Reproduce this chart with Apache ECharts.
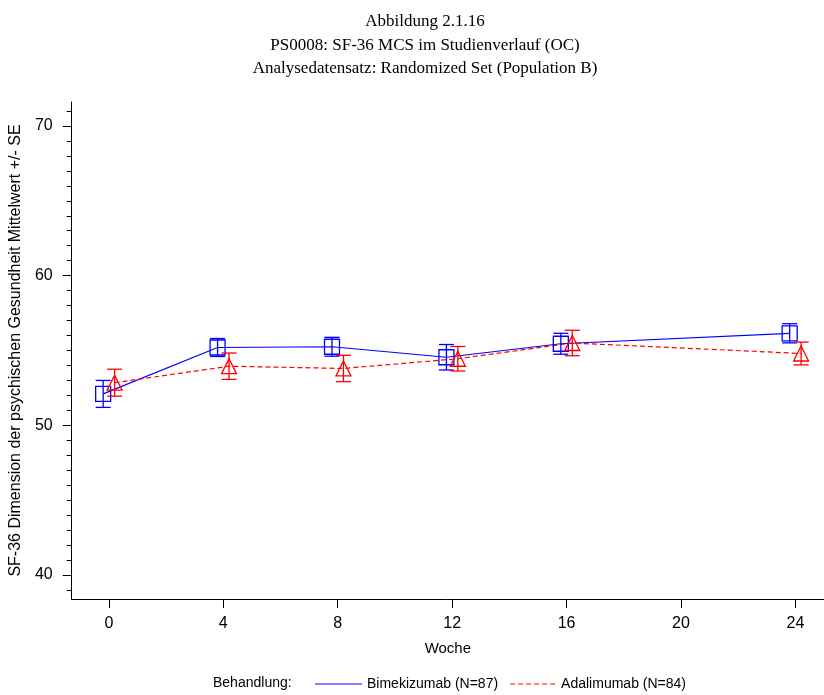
<!DOCTYPE html>
<html><head><meta charset="utf-8">
<script src="https://cdn.jsdelivr.net/npm/echarts@6/dist/echarts.min.js"></script>
<style>html,body{margin:0;padding:0;background:#fff}#c{width:824px;height:695px}</style>
</head><body><div id="c"></div>
<script>
// ---- data ----
const weeks = [0, 4, 8, 12, 16, 24];
const bimeMean = [52.1, 55.2, 55.25, 54.55, 55.45, 56.15];
const bimeSE = [0.9, 0.6, 0.63, 0.85, 0.7, 0.64];
const adaMean = [52.85, 53.95, 53.8, 54.45, 55.5, 54.8];
const adaSE = [0.9, 0.88, 0.88, 0.82, 0.85, 0.76];
const xTickLabels = [0, 4, 8, 12, 16, 20, 24];
const yTickLabels = [40, 50, 60, 70];
const yMinorTicks = [39,40,41,42,43,44,45,46,47,48,49,50,51,52,53,54,55,56,57,58,59,60,61,62,63,64,65,66,67,68,69,70,71];
const bimeName = 'Bimekizumab (N=87)';
const adaName = 'Adalimumab (N=84)';
const titleLines = ['Abbildung 2.1.16', 'PS0008: SF-36 MCS im Studienverlauf (OC)', 'Analysedatensatz: Randomized Set (Population B)'];
const yTitle = 'SF-36 Dimension der psychischen Gesundheit Mittelwert +/- SE';
const xTitle = 'Woche';
const legendTitle = 'Behandlung:';

// ---- layout / style ----
const shift = 0.2; // horizontal dodge of the two groups (weeks)
const BLUE = '#0000ff', RED = '#ff0000';
const SANS = "'Liberation Sans',Arial,sans-serif";
const SERIF = "'Liberation Serif','Times New Roman',serif";

function pts(mean, dx) { return weeks.map((w, i) => [w + dx, mean[i]]); }
function errData(mean, se, dx) { return weeks.map((w, i) => [w + dx, mean[i] - se[i], mean[i] + se[i], mean[i]]); }

function makeRender(color, shape) {
  return function (params, api) {
    const x = api.value(0);
    const lo = api.coord([x, api.value(1)]);
    const hi = api.coord([x, api.value(2)]);
    const c = api.coord([x, api.value(3)]);
    const cw = 7.5, s = 7.5;
    const st = { stroke: color, lineWidth: 1.3, fill: null };
    const children = [
      { type: 'line', shape: { x1: lo[0], y1: lo[1], x2: hi[0], y2: hi[1] }, style: st },
      { type: 'line', shape: { x1: lo[0] - cw, y1: lo[1], x2: lo[0] + cw, y2: lo[1] }, style: st },
      { type: 'line', shape: { x1: hi[0] - cw, y1: hi[1], x2: hi[0] + cw, y2: hi[1] }, style: st }
    ];
    if (shape === 'square') {
      children.push({ type: 'rect', shape: { x: c[0] - s, y: c[1] - s, width: 2 * s, height: 2 * s }, style: st });
    } else {
      children.push({ type: 'polygon', shape: { points: [[c[0], c[1] - s], [c[0] + s, c[1] + s], [c[0] - s, c[1] + s]] }, style: st });
    }
    return { type: 'group', children: children };
  };
}

const chart = echarts.init(document.getElementById('c'), null, { renderer: 'canvas' });
chart.setOption({
  animation: false,
  backgroundColor: '#fff',
  title: {
    text: titleLines.join('\n'),
    left: 420, top: 5, textAlign: 'center',
    textStyle: { fontFamily: SERIF, fontSize: 17, fontWeight: 'normal', color: '#000', lineHeight: 23.5 }
  },
  grid: { left: 69, right: 0, top: 102, bottom: 96, containLabel: false },
  xAxis: {
    type: 'value', min: -1.3, max: 25,
    axisLine: { show: true, onZero: false, lineStyle: { color: '#000', width: 1 } },
    axisTick: { show: true, length: 9, customValues: xTickLabels, lineStyle: { color: '#000' } },
    axisLabel: { customValues: xTickLabels, fontFamily: SANS, fontSize: 16, color: '#000', margin: 17 },
    splitLine: { show: false },
    name: xTitle, nameLocation: 'middle', nameGap: 42,
    nameTextStyle: { fontFamily: SANS, fontSize: 15, color: '#000' }
  },
  yAxis: [{
    type: 'value', min: 38.4, max: 71.6, position: 'left',
    axisLine: { show: true, onZero: false, lineStyle: { color: '#000', width: 1 } },
    axisTick: { show: true, length: 9, customValues: yTickLabels, lineStyle: { color: '#000' } },
    axisLabel: { customValues: yTickLabels, fontFamily: SANS, fontSize: 16, color: '#000', margin: 19 },
    splitLine: { show: false },
    name: yTitle, nameLocation: 'middle', nameGap: 42, nameRotate: 90,
    nameTextStyle: { fontFamily: SANS, fontSize: 16, color: '#000' }
  }, {
    type: 'value', min: 38.4, max: 71.6, position: 'left', offset: 0,
    axisLine: { show: false, onZero: false },
    axisTick: { show: true, length: 5, customValues: yMinorTicks, lineStyle: { color: '#000' } },
    axisLabel: { show: false },
    splitLine: { show: false }
  }],
  legend: {
    data: [
      { name: bimeName, icon: 'path://M0,0h48v1h-48z' },
      { name: adaName, icon: 'path://M0,0h5v1h-5zM8,0h5v1h-5zM16,0h5v1h-5zM24,0h5v1h-5zM32,0h5v1h-5zM40,0h5v1h-5z' }
    ],
    left: 310, top: 672, itemWidth: 47, itemHeight: 1, itemGap: 12,
    textStyle: { fontFamily: SANS, fontSize: 14, color: '#000', padding: [0, 0, 0, 0] },
    selectedMode: false
  },
  graphic: [{
    type: 'text', left: 213, top: 676,
    style: { text: legendTitle, font: '14px ' + SANS, fill: '#000' }
  }],
  series: [
    { name: bimeName, type: 'line', data: pts(bimeMean, -shift), symbol: 'none', color: BLUE,
      lineStyle: { color: BLUE, width: 1.2 }, z: 2 },
    { name: adaName, type: 'line', data: pts(adaMean, shift), symbol: 'none', color: RED,
      lineStyle: { color: RED, width: 1.2, type: [5, 3] }, z: 2 },
    { name: 'bimeErr', type: 'custom', data: errData(bimeMean, bimeSE, -shift), renderItem: makeRender(BLUE, 'square'),
      encode: { x: 0, y: [1, 2, 3] }, z: 3 },
    { name: 'adaErr', type: 'custom', data: errData(adaMean, adaSE, shift), renderItem: makeRender(RED, 'triangle'),
      encode: { x: 0, y: [1, 2, 3] }, z: 3 }
  ]
});
</script></body></html>
